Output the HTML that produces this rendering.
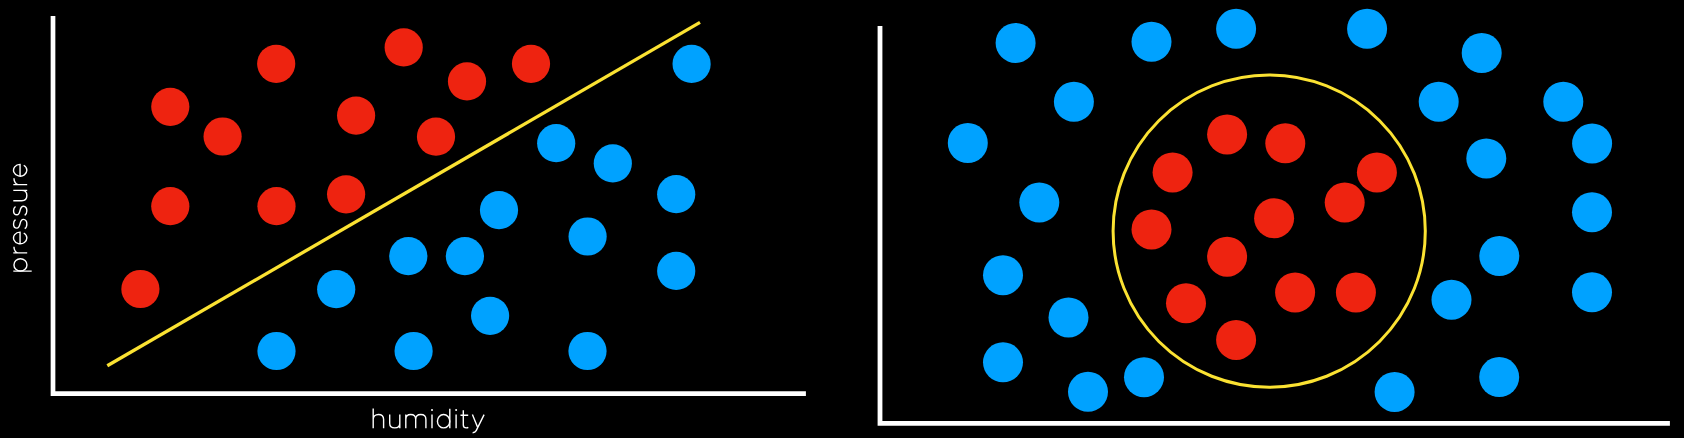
<!DOCTYPE html>
<html><head><meta charset="utf-8"><style>
html,body{margin:0;padding:0;background:#000;width:1684px;height:438px;overflow:hidden;}
svg{display:block;}
</style></head><body>
<svg width="1684" height="438" viewBox="0 0 1684 438">
<rect width="1684" height="438" fill="#000"/>
<path d="M53 15.9 V393.7 H805.9" fill="none" stroke="#fff" stroke-width="4.7"/>
<line x1="107.3" y1="365.8" x2="700" y2="22.4" stroke="#FBE232" stroke-width="3.3"/>
<circle cx="170.30" cy="106.80" r="19.1" fill="#EE2310"/>
<circle cx="222.60" cy="136.50" r="19.1" fill="#EE2310"/>
<circle cx="276.20" cy="63.80" r="19.1" fill="#EE2310"/>
<circle cx="403.70" cy="47.40" r="19.1" fill="#EE2310"/>
<circle cx="467.00" cy="81.40" r="19.1" fill="#EE2310"/>
<circle cx="531.00" cy="63.80" r="19.1" fill="#EE2310"/>
<circle cx="356.10" cy="115.60" r="19.1" fill="#EE2310"/>
<circle cx="436.00" cy="136.70" r="19.1" fill="#EE2310"/>
<circle cx="170.30" cy="206.20" r="19.1" fill="#EE2310"/>
<circle cx="276.50" cy="206.20" r="19.1" fill="#EE2310"/>
<circle cx="346.10" cy="194.30" r="19.1" fill="#EE2310"/>
<circle cx="140.40" cy="289.00" r="19.1" fill="#EE2310"/>
<circle cx="691.60" cy="63.90" r="19.1" fill="#00A2FF"/>
<circle cx="556.20" cy="143.20" r="19.1" fill="#00A2FF"/>
<circle cx="612.80" cy="163.40" r="19.1" fill="#00A2FF"/>
<circle cx="676.20" cy="194.20" r="19.1" fill="#00A2FF"/>
<circle cx="499.00" cy="210.10" r="19.1" fill="#00A2FF"/>
<circle cx="587.60" cy="236.50" r="19.1" fill="#00A2FF"/>
<circle cx="676.20" cy="270.90" r="19.1" fill="#00A2FF"/>
<circle cx="408.30" cy="256.20" r="19.1" fill="#00A2FF"/>
<circle cx="464.90" cy="256.20" r="19.1" fill="#00A2FF"/>
<circle cx="336.20" cy="289.20" r="19.1" fill="#00A2FF"/>
<circle cx="490.10" cy="315.80" r="19.1" fill="#00A2FF"/>
<circle cx="276.50" cy="351.00" r="19.1" fill="#00A2FF"/>
<circle cx="413.60" cy="351.00" r="19.1" fill="#00A2FF"/>
<circle cx="587.50" cy="351.00" r="19.1" fill="#00A2FF"/>
<g fill="none" stroke="#fff" stroke-width="1.4"><path d="M373.2,408.5 V428.2 M373.2,419.6 C373.2,416.4 375.5,414.5 378.4,414.5 C381.4,414.5 383.6,416.4 383.6,419.6 V428.2 M389.7,414.5 V423.2 C389.7,426.1 391.7,427.85 394.75,427.85 C397.8,427.85 399.8,426.1 399.8,423.2 M399.8,414.5 V428.2 M405.8,414.5 V428.2 M405.8,419.4 C405.8,416.4 407.8,414.5 410.7,414.5 C413.7,414.5 415.7,416.4 415.7,419.4 V428.2 M415.7,419.4 C415.7,416.4 417.8,414.5 420.8,414.5 C423.8,414.5 425.9,416.4 425.9,419.4 V428.2 M432,414.5 V428.2 M449.8,408.7 V428.2 M456.1,414.5 V428.2 M463.3,410.2 V425 C463.3,427 464.5,427.9 466.3,427.9 C467.2,427.9 467.8,427.7 468.3,427.4 M460.5,415.3 H468.2 M472.4,414.6 L477.9,428.1 M484.1,414.6 L476.2,430.6 C475.4,432.2 474.4,432.7 472.6,432.7"/><ellipse cx="443.6" cy="421.2" rx="6.17" ry="6.65"/></g>
<circle cx="432" cy="410" r="1" fill="#fff"/><circle cx="456.1" cy="410" r="1" fill="#fff"/>
<g transform="translate(27.2,271.1) rotate(-90)" fill="none" stroke="#fff" stroke-width="1.4"><path d="M0,-13.9 V4.5 M18.2,-13.9 V0 M18.2,-8.8 C18.2,-11.4 21.099999999999998,-13.25 24.4,-13.25 M27.30,-7.15 H39.00 A5.85,6.65 0 1 0 38.11,-3.48 M51.48,-11.7 C50.57,-13.0 49.04,-13.65 47.20,-13.65 C44.55,-13.65 43.02,-12.3 43.02,-10.3 C43.02,-5.9 51.69,-8.5 51.69,-3.8 C51.69,-1.6 49.85,-0.35 47.20,-0.35 C44.96,-0.35 43.22,-1.1 42.41,-2.5 M64.60,-11.7 C63.70,-13.0 62.20,-13.65 60.40,-13.65 C57.80,-13.65 56.30,-12.3 56.30,-10.3 C56.30,-5.9 64.80,-8.5 64.80,-3.8 C64.80,-1.6 63.00,-0.35 60.40,-0.35 C58.20,-0.35 56.50,-1.1 55.70,-2.5 M70.4,-13.9 V-5.4 C70.4,-2.1 72.5,-0.35 75.55,-0.35 C78.6,-0.35 80.7,-2.1 80.7,-5.4 M80.7,-13.9 V0 M86.5,-13.9 V0 M86.5,-8.8 C86.5,-11.4 89.4,-13.25 92.8,-13.25 M94.95,-7.15 H106.75 A5.9,6.65 0 1 0 105.85,-3.48 "/><ellipse cx="6.2" cy="-6.75" rx="6.15" ry="6.5"/></g>
<path d="M880 25.9 V423.4 H1669.9" fill="none" stroke="#fff" stroke-width="4.8"/>
<circle cx="1269.2" cy="231.1" r="156.1" fill="none" stroke="#FBE232" stroke-width="3.0"/>
<circle cx="1015.60" cy="42.90" r="20" fill="#00A2FF"/>
<circle cx="1151.50" cy="41.80" r="20" fill="#00A2FF"/>
<circle cx="1236.10" cy="28.80" r="20" fill="#00A2FF"/>
<circle cx="1367.10" cy="28.80" r="20" fill="#00A2FF"/>
<circle cx="1481.70" cy="53.00" r="20" fill="#00A2FF"/>
<circle cx="1073.90" cy="101.80" r="20" fill="#00A2FF"/>
<circle cx="1438.70" cy="101.70" r="20" fill="#00A2FF"/>
<circle cx="1563.30" cy="101.70" r="20" fill="#00A2FF"/>
<circle cx="967.80" cy="143.00" r="20" fill="#00A2FF"/>
<circle cx="1486.30" cy="158.40" r="20" fill="#00A2FF"/>
<circle cx="1592.10" cy="143.50" r="20" fill="#00A2FF"/>
<circle cx="1039.30" cy="202.60" r="20" fill="#00A2FF"/>
<circle cx="1592.00" cy="212.20" r="20" fill="#00A2FF"/>
<circle cx="1003.00" cy="275.20" r="20" fill="#00A2FF"/>
<circle cx="1499.30" cy="256.10" r="20" fill="#00A2FF"/>
<circle cx="1068.50" cy="317.40" r="20" fill="#00A2FF"/>
<circle cx="1451.50" cy="299.70" r="20" fill="#00A2FF"/>
<circle cx="1592.00" cy="292.30" r="20" fill="#00A2FF"/>
<circle cx="1003.00" cy="362.30" r="20" fill="#00A2FF"/>
<circle cx="1088.00" cy="391.80" r="20" fill="#00A2FF"/>
<circle cx="1144.00" cy="377.20" r="20" fill="#00A2FF"/>
<circle cx="1394.60" cy="391.90" r="20" fill="#00A2FF"/>
<circle cx="1499.20" cy="377.10" r="20" fill="#00A2FF"/>
<circle cx="1227.10" cy="134.40" r="20" fill="#EE2310"/>
<circle cx="1285.30" cy="143.30" r="20" fill="#EE2310"/>
<circle cx="1172.60" cy="172.40" r="20" fill="#EE2310"/>
<circle cx="1376.90" cy="172.40" r="20" fill="#EE2310"/>
<circle cx="1151.50" cy="229.40" r="20" fill="#EE2310"/>
<circle cx="1274.10" cy="218.20" r="20" fill="#EE2310"/>
<circle cx="1344.70" cy="202.60" r="20" fill="#EE2310"/>
<circle cx="1227.10" cy="256.70" r="20" fill="#EE2310"/>
<circle cx="1186.00" cy="303.20" r="20" fill="#EE2310"/>
<circle cx="1295.10" cy="292.50" r="20" fill="#EE2310"/>
<circle cx="1355.90" cy="292.50" r="20" fill="#EE2310"/>
<circle cx="1236.10" cy="339.90" r="20" fill="#EE2310"/>
</svg>
</body></html>
